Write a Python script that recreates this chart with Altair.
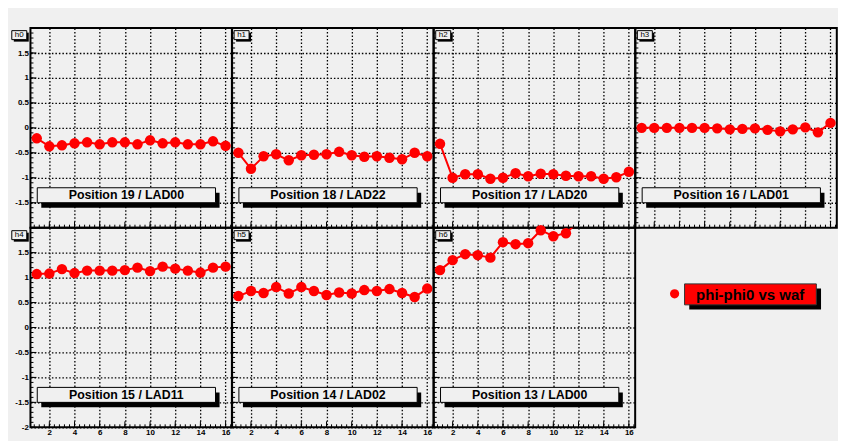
import altair as alt
import pandas as pd

# ---------------- data ----------------
waf = list(range(1, 17))
h0 = [-0.21, -0.37, -0.35, -0.31, -0.29, -0.33, -0.29, -0.29, -0.33, -0.25, -0.31, -0.29, -0.33, -0.33, -0.27, -0.36]
h1 = [-0.50, -0.82, -0.57, -0.53, -0.65, -0.55, -0.54, -0.53, -0.48, -0.55, -0.58, -0.57, -0.60, -0.63, -0.50, -0.57]
h2 = [-0.32, -1.00, -0.93, -0.93, -1.02, -1.00, -0.91, -0.97, -0.92, -0.93, -0.96, -0.97, -0.97, -1.02, -0.99, -0.88]
h3 = [0.00, 0.00, 0.00, 0.00, 0.00, 0.00, -0.01, -0.03, -0.02, -0.01, -0.04, -0.07, -0.03, 0.01, -0.09, 0.10]
h4 = [1.07, 1.08, 1.17, 1.09, 1.14, 1.14, 1.14, 1.15, 1.20, 1.13, 1.22, 1.18, 1.14, 1.10, 1.20, 1.22]
h5 = [0.63, 0.73, 0.69, 0.81, 0.68, 0.81, 0.73, 0.65, 0.70, 0.68, 0.75, 0.73, 0.77, 0.69, 0.61, 0.78]
h6 = [1.15, 1.35, 1.47, 1.45, 1.40, 1.71, 1.67, 1.69, 1.95, 1.83, 1.89, 2.12, 2.20, 2.30, 2.35, 2.45]

names = ["h0", "h1", "h2", "h3", "h4", "h5", "h6"]
series = [h0, h1, h2, h3, h4, h5, h6]
positions = ["Position 19 / LAD00", "Position 18 / LAD22", "Position 17 / LAD20",
             "Position 16 / LAD01", "Position 15 / LAD11", "Position 14 / LAD02",
             "Position 13 / LAD00"]
legend_text = "phi-phi0 vs waf"

x_grid = [2, 4, 6, 8, 10, 12, 14, 16]
y_grid_top = [-1.5, -1, -0.5, 0, 0.5, 1, 1.5]
y_grid_bottom = [-2, -1.5, -1, -0.5, 0, 0.5, 1, 1.5]
y_minor = [round(-2 + 0.1 * k, 2) for k in range(41)]
x_minor = [round(0.8 + 0.4 * k, 2) for k in range(40)]

# ---------------- style ----------------
BG = "#f0f0f0"
RED = "#ff0000"
FONT = "Liberation Sans"
W, H = 201.8, 200

xs = alt.Scale(domain=[0.5, 16.5], nice=False, zero=False)
ys = alt.Scale(domain=[-2, 2], nice=False, zero=False)


def panel(i):
    col, row = i % 4, i // 4
    df = pd.DataFrame({"waf": waf, "dphi": series[i]})

    xaxis = alt.Axis(values=x_grid, grid=True, ticks=False, tickSize=0, domain=False,
                     labels=(row == 1), labelExpr="toString(datum.value)",
                     labelOverlap=False, labelFlush=False, labelBound=False,
                     labelFont=FONT, labelFontSize=8, labelFontWeight="bold",
                     labelColor="black", labelPadding=1, title=None)
    yaxis = alt.Axis(values=(y_grid_bottom if row == 1 else y_grid_top),
                     grid=True, ticks=False, tickSize=0, domain=False,
                     labels=(col == 0), labelExpr="toString(datum.value)",
                     labelOverlap=False, labelFlush=False, labelBound=False,
                     labelFont=FONT, labelFontSize=8, labelFontWeight="bold",
                     labelColor="black", labelPadding=2, title=None)

    def X(f):
        return alt.X(f, scale=xs, axis=xaxis)

    def Y(f):
        return alt.Y(f, scale=ys, axis=yaxis)

    base = alt.Chart(df).encode(x=X("waf:Q"), y=Y("dphi:Q"))
    line = base.mark_line(color=RED, strokeWidth=2, clip=True)
    pts = base.mark_circle(color=RED, size=110, opacity=1).transform_filter("datum.dphi <= 2")

    y_major = [v for v in y_minor if abs(v * 2 - round(v * 2)) < 1e-9]
    ymaj = alt.Chart(pd.DataFrame({"t": y_major})).mark_rule(
        color="black", strokeWidth=1).encode(y=Y("t:Q"), x=alt.value(0), x2=alt.value(6))
    ymin = alt.Chart(pd.DataFrame({"t": y_minor})).mark_rule(
        color="black", strokeWidth=1).encode(y=Y("t:Q"), x=alt.value(0), x2=alt.value(3))
    xmaj = alt.Chart(pd.DataFrame({"t": x_grid})).mark_rule(
        color="black", strokeWidth=1).encode(x=X("t:Q"), y=alt.value(H), y2=alt.value(H - 6))
    xmin = alt.Chart(pd.DataFrame({"t": x_minor})).mark_rule(
        color="black", strokeWidth=1).encode(x=X("t:Q"), y=alt.value(H), y2=alt.value(H - 3))

    # label box in data units; shadow shifted by ~4px right, 5px down
    box_df = pd.DataFrame({"bx1": [1.04], "bx2": [15.2], "by1": [-1.2], "by2": [-1.5],
                           "sx1": [1.36], "sx2": [15.52], "sy1": [-1.3], "sy2": [-1.6],
                           "tx": [8.12], "ty": [-1.35], "lab": [positions[i]]})
    bbase = alt.Chart(box_df)
    shadow = bbase.mark_rect(fill="black").encode(
        x=X("sx1:Q"), x2="sx2:Q", y=Y("sy1:Q"), y2="sy2:Q")
    box = bbase.mark_rect(fill=BG, stroke="black", strokeWidth=1).encode(
        x=X("bx1:Q"), x2="bx2:Q", y=Y("by1:Q"), y2="by2:Q")
    txt = bbase.mark_text(font=FONT, fontSize=12.4, fontWeight="bold", color="black",
                          baseline="middle", align="center").encode(
        x=X("tx:Q"), y=Y("ty:Q"), text="lab:N")

    hx = -18.7 if col == 0 else 2
    hy = 2.6 if row == 0 else 3
    one = pd.DataFrame({"n": [names[i]]})
    hshadow = alt.Chart(one).mark_rect(fill="black").encode(
        x=alt.value(hx + 2), x2=alt.value(hx + 17), y=alt.value(hy + 2), y2=alt.value(hy + 11))
    hbox = alt.Chart(one).mark_rect(fill=BG, stroke="black", strokeWidth=1).encode(
        x=alt.value(hx), x2=alt.value(hx + 15), y=alt.value(hy), y2=alt.value(hy + 9))
    htxt = alt.Chart(one).mark_text(font=FONT, fontSize=8, color="black",
                                    baseline="middle", align="center").encode(
        x=alt.value(hx + 7.5), y=alt.value(hy + 4.8), text="n:N")

    return alt.layer(line, ymin, ymaj, xmin, xmaj, pts, shadow, box, txt,
                     hshadow, hbox, htxt).properties(width=W, height=H)


panels = [panel(i) for i in range(7)]

# legend cell
one = pd.DataFrame({"t": [legend_text]})
leg_dot = alt.Chart(one).mark_circle(color=RED, size=85, opacity=1).encode(
    x=alt.value(39.3), y=alt.value(66.3))
leg_shadow = alt.Chart(one).mark_rect(fill="black").encode(
    x=alt.value(54), x2=alt.value(186), y=alt.value(61), y2=alt.value(82))
leg_box = alt.Chart(one).mark_rect(fill=RED, stroke="#333333", strokeWidth=1).encode(
    x=alt.value(49.3), x2=alt.value(181.3), y=alt.value(56.3), y2=alt.value(77.3))
leg_txt = alt.Chart(one).mark_text(font=FONT, fontSize=15, fontWeight="bold", color="black",
                                   baseline="middle", align="center").encode(
    x=alt.value(115), y=alt.value(67), text="t:N")
legend = alt.layer(leg_dot, leg_shadow, leg_box, leg_txt).properties(
    width=W, height=H, view=alt.ViewConfig(stroke="transparent"))

chart = alt.concat(*panels, legend, columns=4, spacing=0, bounds="flush").properties(
    padding={"left": 1.5, "top": 17.7, "right": 0, "bottom": 6},
    background=BG,
).configure_view(
    stroke="black", strokeWidth=2
).configure_axis(
    gridColor="black", gridDash=[1.5, 2], gridWidth=1.3, gridOpacity=1,
    labelOverlap=False, labelFlush=False
)

chart.save("out.html", embed_options={"renderer": "svg", "actions": False})
